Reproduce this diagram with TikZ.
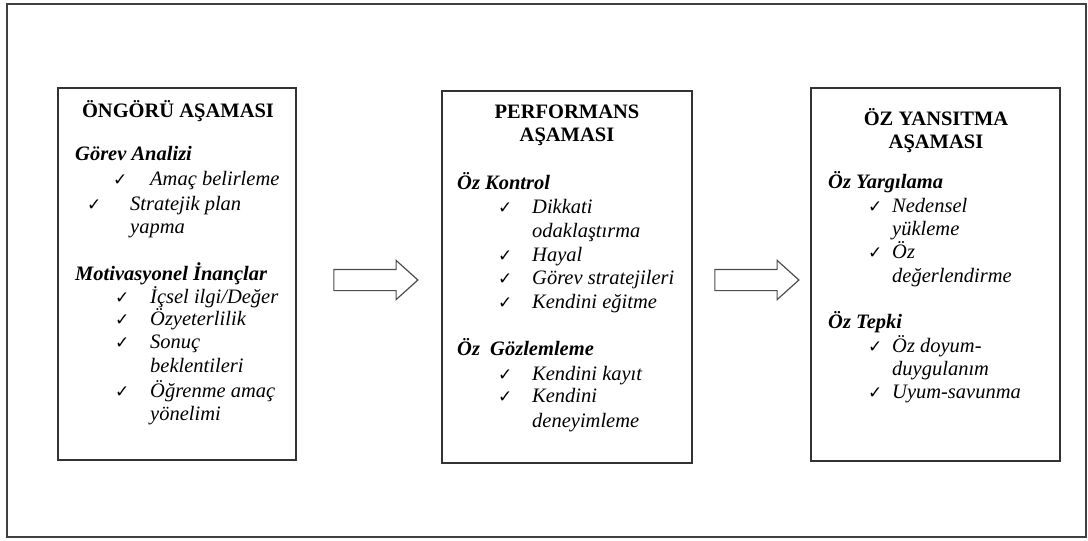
\documentclass[tikz,border=0pt]{standalone}
\usepackage{fontspec}
\setmainfont{Liberation Serif}
\newfontfamily\chkfont{DejaVu Sans}
\usetikzlibrary{shapes.arrows}

\begin{document}
\begin{tikzpicture}[x=1pt,y=-1pt,
  stage/.style={draw=black!80, line width=1.3pt, rectangle, inner sep=0pt},
  head/.style={anchor=base, inner sep=0pt, font=\fontsize{20.5}{23.5}\selectfont\bfseries},
  group/.style={anchor=base west, inner sep=0pt, font=\fontsize{20.5}{23.5}\selectfont\bfseries\itshape},
  item/.style={anchor=base west, inner sep=0pt, font=\fontsize{20.5}{23.5}\selectfont\itshape},
  tick/.style={anchor=base west, inner sep=0pt, font=\fontsize{17}{19}\selectfont\chkfont},
  flow/.style={draw=black!70, line width=1.2pt, single arrow, minimum height=84pt,
    single arrow head extend=9pt, single arrow tip angle=84, inner xsep=0pt, inner ysep=10pt}]
\useasboundingbox (0,0) rectangle (1088,541);
\draw [draw=black!75, line width=1.3pt] (7,4) rectangle (1086,537);

\node [stage, minimum width=238pt, minimum height=372pt, name=p1] at (177,274) {};
\node [stage, minimum width=250pt, minimum height=372pt, name=p2] at (567,277) {};
\node [stage, minimum width=249pt, minimum height=373pt, name=p3] at (935.5,274.5) {};
\node [flow, name=r1] at (370,280) {};
\node [flow, name=r2] at (751,280) {};

% ongoru
\node [head, name=h1]  at (178,117) {ÖNGÖRÜ AŞAMASI};
\node [group, name=g1a] at (75,160) {Görev Analizi};
\node [tick, name=c1a] at (113,185) {✓};
\node [item, name=i1a] at (150,185) {Amaç belirleme};
\node [tick, name=c1b] at (87,210) {✓};
\node [item, name=i1b] at (130,210) {Stratejik plan};
\node [item, name=i1c] at (130,233) {yapma};
\node [group, name=g1b] at (75,280) {Motivasyonel İnançlar};
\node [tick, name=c1d] at (115,303) {✓};
\node [item, name=i1d] at (150,303) {İçsel ilgi/Değer};
\node [tick, name=c1e] at (115,325) {✓};
\node [item, name=i1e] at (150,325) {Özyeterlilik};
\node [tick, name=c1f] at (115,348) {✓};
\node [item, name=i1f] at (150,348) {Sonuç};
\node [item, name=i1g] at (150,372) {beklentileri};
\node [tick, name=c1h] at (115,397) {✓};
\node [item, name=i1h] at (150,397) {Öğrenme amaç};
\node [item, name=i1i] at (150,420) {yönelimi};

% performans
\node [head, name=h2]  at (567,118) {PERFORMANS};
\node [head, name=h2b] at (567,141) {AŞAMASI};
\node [group, name=g2a] at (457,189) {Öz Kontrol};
\node [tick, name=c2a] at (498,213) {✓};
\node [item, name=i2a] at (532,213) {Dikkati};
\node [item, name=i2b] at (532,237) {odaklaştırma};
\node [tick, name=c2c] at (498,261) {✓};
\node [item, name=i2c] at (532,261) {Hayal};
\node [tick, name=c2d] at (498,284) {✓};
\node [item, name=i2d] at (532,284) {Görev stratejileri};
\node [tick, name=c2e] at (498,308) {✓};
\node [item, name=i2e] at (532,308) {Kendini eğitme};
\node [group, name=g2b] at (457,355) {Öz\ \ Gözlemleme};
\node [tick, name=c2f] at (498,380) {✓};
\node [item, name=i2f] at (532,380) {Kendini kayıt};
\node [tick, name=c2g] at (498,402) {✓};
\node [item, name=i2g] at (532,402) {Kendini};
\node [item, name=i2h] at (532,427) {deneyimleme};

% oz yansitma
\node [head, name=h3]  at (936,125) {ÖZ YANSITMA};
\node [head, name=h3b] at (936,148) {AŞAMASI};
\node [group, name=g3a] at (828,188) {Öz Yargılama};
\node [tick, name=c3a] at (868,212) {✓};
\node [item, name=i3a] at (892,212) {Nedensel};
\node [item, name=i3b] at (892,235) {yükleme};
\node [tick, name=c3c] at (868,258) {✓};
\node [item, name=i3c] at (892,258) {Öz};
\node [item, name=i3d] at (892,282) {değerlendirme};
\node [group, name=g3b] at (828,328) {Öz Tepki};
\node [tick, name=c3e] at (868,352) {✓};
\node [item, name=i3e] at (892,352) {Öz doyum-};
\node [item, name=i3f] at (892,375) {duygulanım};
\node [tick, name=c3g] at (868,398) {✓};
\node [item, name=i3g] at (892,398) {Uyum-savunma};
%\node at (936,440) {};
\end{tikzpicture}
\end{document}
